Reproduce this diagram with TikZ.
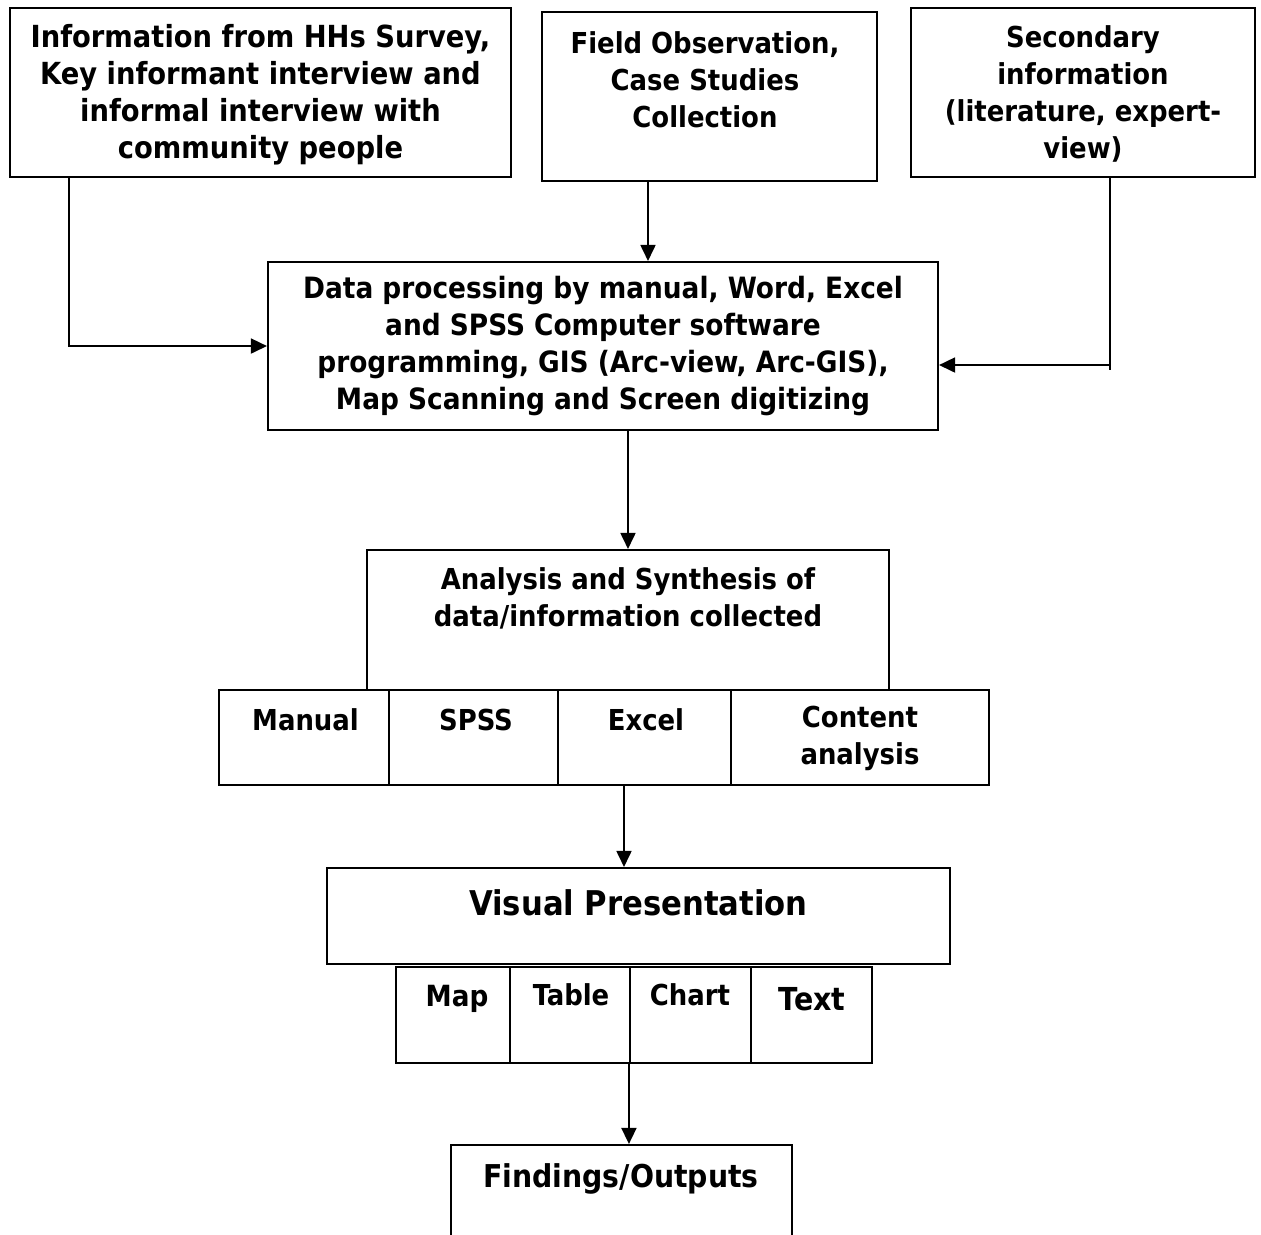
\documentclass[tikz,border=0pt]{standalone}
\usepackage{fontspec}
\setmainfont{DejaVu Sans Condensed}
\usetikzlibrary{arrows.meta, positioning}

\tikzset{
  box/.style={draw, line width=0.6pt, inner sep=0pt, align=center},
  txt/.style={inner sep=0pt, align=center},
  arr/.style={line width=0.5pt, -{Triangle[length=1.6mm, width=1.5mm]}},
  bigtxt/.style={txt, font=\bfseries\fontsize{9.7}{12}\selectfont}
}

\begin{document}
\begin{tikzpicture}[font=\bfseries\fontsize{8.2}{10.5}\selectfont]
  \clip (0,0) rectangle (12.61,-12.34);

  % sources
  \node[box, minimum width=5.01cm, minimum height=1.69cm, font=\bfseries\fontsize{8.65}{10.5}\selectfont] (info) at (2.605,-0.925) {};
  \node[txt, font=\bfseries\fontsize{8.65}{10.5}\selectfont] (infotxt) at (2.605,-0.945)
    {Information from HHs Survey,\\ Key informant interview and\\ informal interview with\\ community people};
  \node[box, minimum width=3.35cm, minimum height=1.69cm] (field) at (7.095,-0.965) {};
  \node[txt] (fieldtxt) at (7.05,-0.80) {Field Observation,\\ Case Studies\\ Collection};
  \node[box, minimum width=3.44cm, minimum height=1.69cm] (sec) at (10.83,-0.925) {};
  \node[txt] (sectxt) at (10.83,-0.94) {Secondary\\ information\\ (literature, expert-\\ view)};

  % processing
  \node[box, minimum width=6.70cm, minimum height=1.68cm, font=\bfseries\fontsize{8.35}{10.5}\selectfont] (proc) at (6.03,-3.46)
    {Data processing by manual, Word, Excel\\ and SPSS Computer software\\ programming, GIS (Arc-view, Arc-GIS),\\ Map Scanning and Screen digitizing};

  % analysis
  \node[box, minimum width=5.22cm, minimum height=1.40cm] (anal) at (6.28,-6.20) {};
  \node[txt] (analtxt) at (6.28,-5.985) {Analysis and Synthesis of\\ data/information collected};
  \node[box, minimum width=1.70cm, minimum height=0.95cm] (manual) at (3.04,-7.375) {};
  \node[box, minimum width=1.69cm, minimum height=0.95cm] (spss) at (4.735,-7.375) {};
  \node[box, minimum width=1.73cm, minimum height=0.95cm] (excel) at (6.445,-7.375) {};
  \node[box, minimum width=2.58cm, minimum height=0.95cm] (content) at (8.60,-7.375) {};
  \node[txt] (contenttxt) at (8.60,-7.385) {Content\\ analysis};
  \node[txt] (manualtxt) at (3.055,-7.20) {Manual};
  \node[txt] (spsstxt) at (4.76,-7.20) {SPSS};
  \node[txt] (exceltxt) at (6.46,-7.20) {Excel};

  % presentation
  \node[box, minimum width=6.23cm, minimum height=0.96cm] (vis) at (6.385,-9.16) {};
  \node[bigtxt] (vistxt) at (6.385,-9.03) {Visual Presentation};
  \node[box, minimum width=1.14cm, minimum height=0.96cm] (map) at (4.53,-10.15) {};
  \node[box, minimum width=1.20cm, minimum height=0.96cm] (table) at (5.70,-10.15) {};
  \node[box, minimum width=1.21cm, minimum height=0.96cm] (chart) at (6.905,-10.15) {};
  \node[box, minimum width=1.21cm, minimum height=0.96cm] (text) at (8.115,-10.15) {};
  \node[txt, font=\bfseries\fontsize{8.3}{11}\selectfont] (maptxt) at (4.57,-9.99) {Map};
  \node[txt] (tabletxt) at (5.71,-9.95) {Table};
  \node[txt] (charttxt) at (6.90,-9.95) {Chart};
  \node[txt, font=\bfseries\fontsize{9}{11}\selectfont] (texttxt) at (8.12,-9.99) {Text};

  % output
  \node[box, minimum width=3.41cm, minimum height=1.40cm] (find) at (6.215,-12.15) {};
  \node[txt, font=\bfseries\fontsize{8.95}{11}\selectfont] (findtxt) at (6.21,-11.79) {Findings/Outputs};

  % connectors
  \draw[arr] ([xshift=-1.915cm]info.south) |- (proc.west);
  \draw[arr] ([xshift=-0.615cm]field.south) -- ([xshift=0.45cm]proc.north);
  \draw[line width=0.5pt] ([xshift=0.27cm]sec.south) -- ++(0,-1.92);
  \draw[arr] ([xshift=0.27cm]sec.south) |- ([yshift=-0.19cm]proc.east);
  \draw[arr] (proc.south -| anal.north) -- (anal.north);
  \draw[arr] ([xshift=-0.205cm]excel.south) -- ([xshift=-0.145cm]vis.north);
  \draw[arr] (chart.south west) -- (chart.south west |- find.north);
\end{tikzpicture}
\end{document}
